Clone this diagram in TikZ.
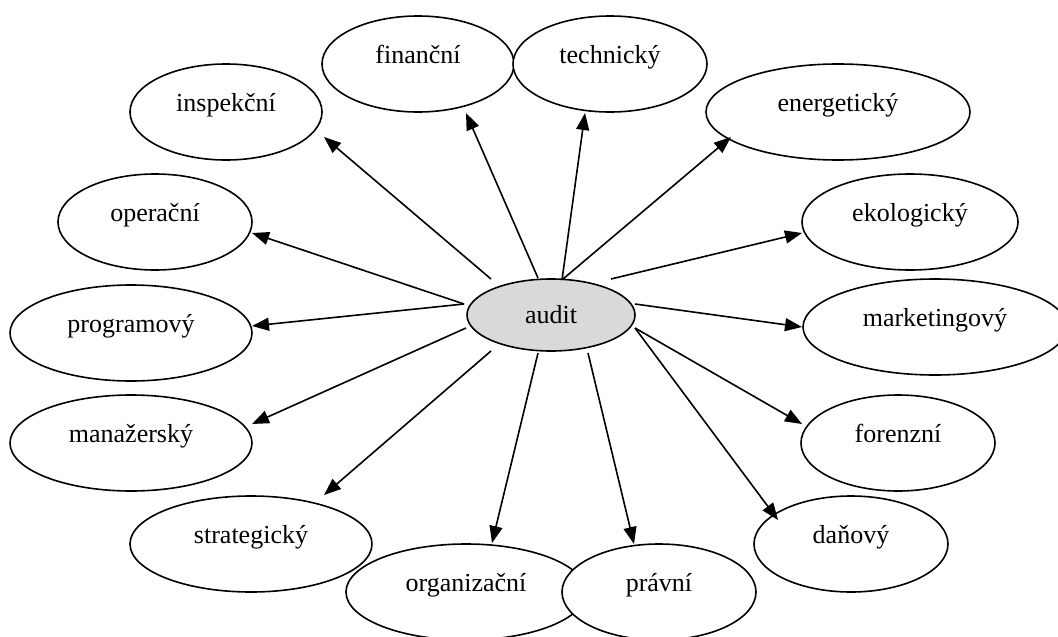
\documentclass[tikz,border=0pt]{standalone}
\usepackage{fontspec}
\setmainfont{Liberation Serif}
\usetikzlibrary{shapes.geometric,arrows.meta}
\begin{document}
\begin{tikzpicture}[x=1pt,y=-1pt,
  label font/.style={font=\fontsize{26}{30}\selectfont},
  oval/.style={ellipse, draw, fill=white, line width=1.6pt, inner sep=0pt,
    minimum height=96pt, text height=0pt, text depth=2pt, label font},
  hub/.style={ellipse, draw, fill=black!15, line width=1.6pt, inner sep=0pt,
    minimum width=168pt, minimum height=72pt, label font},
  link/.style={line width=1.6pt, -{Triangle[length=17pt,width=13pt]}}]
\useasboundingbox (0,0) rectangle (1058,637);

% central topic
\node[hub] (audit) at (551,315) {audit};

% kinds of audit around it
\node[oval, minimum width=192pt] (fin)   at (418,64)  {finanční};
\node[oval, minimum width=194pt] (tech)  at (610,64)  {technický};
\node[oval, minimum width=192pt] (insp)  at (226,112) {inspekční};
\node[oval, minimum width=264pt] (ener)  at (838,112) {energetický};
\node[oval, minimum width=194pt] (oper)  at (155,222) {operační};
\node[oval, minimum width=216pt] (eko)   at (910,222) {ekologický};
\node[oval, minimum width=242pt] (prog)  at (131,333) {programový};
\node[oval, minimum width=264pt] (mark)  at (935,327) {marketingový};
\node[oval, minimum width=242pt] (man)   at (131,443) {manažerský};
\node[oval, minimum width=194pt] (foren) at (898,443) {forenzní};
\node[oval, minimum width=242pt] (strat) at (251,544) {strategický};
\node[oval, minimum width=194pt] (dan)   at (851,544) {daňový};
\node[oval, minimum width=240pt] (org)   at (466,592) {organizační};
\node[oval, minimum width=194pt] (prav)  at (659,592) {právní};

% arrow ends: starts near the hub, tips near each oval
\coordinate (insp-s)  at (491,279); \coordinate (insp-t)  at (324,137);
\coordinate (fin-s)   at (538,278); \coordinate (fin-t)   at (466,113);
\coordinate (tech-s)  at (562,280); \coordinate (tech-t)  at (585,113);
\coordinate (ener-s)  at (563,279); \coordinate (ener-t)  at (731,137);
\coordinate (eko-s)   at (611,279); \coordinate (eko-t)   at (802,233);
\coordinate (mark-s)  at (635,304); \coordinate (mark-t)  at (802,327);
\coordinate (foren-s) at (635,328); \coordinate (foren-t) at (802,424);
\coordinate (dan-s)   at (635,328); \coordinate (dan-t)   at (778,520);
\coordinate (prav-s)  at (588,353); \coordinate (prav-t)  at (634,544);
\coordinate (org-s)   at (538,353); \coordinate (org-t)   at (492,543);
\coordinate (strat-s) at (491,351); \coordinate (strat-t) at (324,495);
\coordinate (man-s)   at (466,328); \coordinate (man-t)   at (252,424);
\coordinate (prog-s)  at (464,304); \coordinate (prog-t)  at (252,326);
\coordinate (oper-s)  at (464,304); \coordinate (oper-t)  at (252,233);

\foreach \n in {insp,fin,tech,ener,eko,mark,foren,dan,prav,org,strat,man,prog,oper}
  \draw[link] (\n-s) -- (\n-t);
\end{tikzpicture}
\end{document}
